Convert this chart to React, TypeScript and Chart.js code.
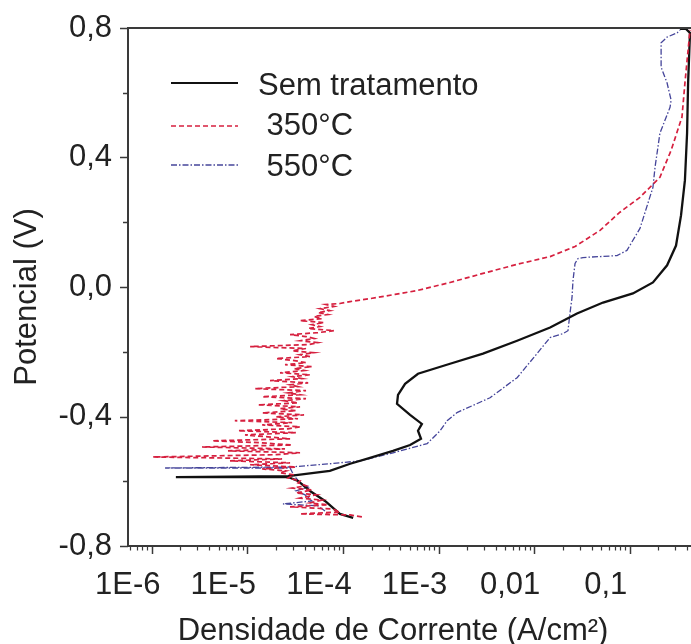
import React, { useEffect, useRef } from 'react';
import { Chart, registerables } from 'chart.js';

Chart.register(...registerables);

// ---------- data (current density A/cm², potential V) ----------
const SERIES_NAMES = ['Sem tratamento', ' 350°C', ' 550°C'];

const BLACK_I = [
  1.28e-4, 9.3e-5, 6.5e-5, 4.53e-5, 3.39e-5, 2.67e-5, 1.79e-6, 2.67e-5, 7.3e-5, 1.19e-4,
  1.92e-4, 3.34e-4, 5.04e-4, 6.56e-4, 6.1e-4, 6.7e-4, 5.04e-4, 3.68e-4, 3.77e-4, 4.47e-4,
  6.1e-4, 1.32e-3, 2.92e-3, 6.64e-3, 0.0147, 0.0281, 0.0526, 0.108, 0.175, 0.246,
  0.305, 0.344, 0.378, 0.398, 0.408, 0.427, 0.388, 0.336,
];
const BLACK_E = [
  -0.713, -0.701, -0.661, -0.63, -0.599, -0.587, -0.587, -0.584, -0.568, -0.546,
  -0.528, -0.506, -0.488, -0.469, -0.444, -0.423, -0.395, -0.361, -0.333, -0.299,
  -0.268, -0.237, -0.206, -0.166, -0.125, -0.082, -0.048, -0.02, 0.014, 0.067,
  0.128, 0.221, 0.33, 0.475, 0.63, 0.785, 0.797, 0.797,
];

const RED_I = [
  // cathodic branch
  1.58e-4, 1.19e-4, 3.56e-5, 9.3e-5, 7.9e-5, 2.8e-5, 6.98e-5, 4.53e-5, 6.04e-5, 3.56e-5,
  5.22e-5, 3.23e-5, 4.75e-5, 2.94e-5, 4.11e-5, 3.39e-5, 3.56e-5, 2.67e-5, 3.08e-5, 2.2e-5,
  // noisy region
  2.54e-5, 1.43e-5, 3.23e-5, 1.07e-5, 2.8e-5, 6.59e-6, 2.31e-5, 1.03e-6, 2.0e-5, 3.56e-5,
  6.28e-6, 2.48e-5, 3.36e-6, 2.94e-5, 1.36e-5, 4.28e-6, 2.8e-5, 1.65e-5, 9.46e-6, 3.23e-5,
  8.0e-6, 2.67e-5, 3.56e-5, 1.43e-5, 2.94e-5, 7.4e-6, 3.39e-5, 2.0e-5, 3.92e-5, 1.43e-5,
  3.23e-5, 2.2e-5, 3.56e-5, 1.29e-5, 3.39e-5, 2.42e-5, 4.11e-5, 1.43e-5, 3.56e-5, 2.67e-5,
  4.11e-5, 1.2e-5, 3.39e-5, 2.8e-5, 4.33e-5, 1.73e-5, 3.73e-5, 2.94e-5, 4.53e-5, 2.2e-5,
  3.92e-5, 3.08e-5, 4.75e-5, 2.48e-5, 4.11e-5, 3.23e-5, 2.0e-5, 4.53e-5, 3.56e-5, 4.99e-5,
  2.94e-5, 4.11e-5, 1.07e-5, 4.33e-5, 5.48e-5, 3.56e-5, 4.99e-5, 4.11e-5, 2.8e-5, 5.48e-5,
  8.07e-5, 4.33e-5, 5.75e-5, 4.75e-5, 6.34e-5, 3.56e-5, 6.04e-5, 4.99e-5, 6.98e-5, 5.48e-5,
  7.3e-5, 5.75e-5, 8.07e-5, 6.65e-5, 9.3e-5,
  // anodic branch
  1.19e-4, 1.92e-4, 3.51e-4, 5.95e-4, 1.32e-3, 2.92e-3, 6.64e-3, 0.0147, 0.0268, 0.0489,
  0.079, 0.128, 0.207, 0.271, 0.352, 0.378, 0.408, 0.427,
];
const RED_E = [
  -0.71, -0.704, -0.701, -0.695, -0.686, -0.679, -0.673, -0.667, -0.658, -0.652,
  -0.642, -0.636, -0.627, -0.621, -0.614, -0.605, -0.599, -0.59, -0.58, -0.574,
  -0.568, -0.562, -0.556, -0.549, -0.543, -0.537, -0.531, -0.525, -0.518, -0.512,
  -0.506, -0.5, -0.494, -0.488, -0.481, -0.475, -0.469, -0.463, -0.457, -0.45,
  -0.444, -0.438, -0.432, -0.426, -0.419, -0.413, -0.407, -0.401, -0.395, -0.389,
  -0.382, -0.376, -0.37, -0.364, -0.358, -0.351, -0.345, -0.339, -0.333, -0.327,
  -0.32, -0.314, -0.308, -0.302, -0.296, -0.289, -0.283, -0.277, -0.271, -0.265,
  -0.258, -0.252, -0.246, -0.24, -0.234, -0.228, -0.221, -0.215, -0.209, -0.203,
  -0.197, -0.19, -0.184, -0.178, -0.172, -0.166, -0.159, -0.153, -0.147, -0.141,
  -0.135, -0.128, -0.122, -0.116, -0.11, -0.104, -0.098, -0.091, -0.085, -0.079,
  -0.073, -0.067, -0.06, -0.054, -0.051,
  -0.045, -0.036, -0.023, -0.011, 0.014, 0.042, 0.07, 0.094, 0.125, 0.175,
  0.231, 0.277, 0.339, 0.422, 0.525, 0.63, 0.732, 0.794,
];

const BLUE_I = [
  6.5e-5, 5.48e-5, 2.36e-5, 4.75e-5, 4.02e-5, 3.23e-5, 4.33e-5, 3.56e-5, 3.23e-5, 2.94e-5,
  2.8e-5, 1.38e-6, 2.8e-5, 7.3e-5, 1.51e-4, 3.34e-4, 7.6e-4, 1.04e-3, 1.23e-3, 1.56e-3,
  3.46e-3, 6.64e-3, 0.0107, 0.0147, 0.02, 0.0226, 0.0237, 0.0249, 0.0255, 0.0268,
  0.0288, 0.0324, 0.0736, 0.0935, 0.128, 0.175, 0.184, 0.207, 0.264, 0.271,
  0.246, 0.213, 0.213, 0.246, 0.313, 0.336,
];
const BLUE_E = [
  -0.692, -0.676, -0.67, -0.661, -0.642, -0.63, -0.618, -0.605, -0.59, -0.571,
  -0.559, -0.559, -0.556, -0.546, -0.537, -0.512, -0.484, -0.444, -0.413, -0.388,
  -0.342, -0.28, -0.206, -0.156, -0.144, -0.135, -0.082, -0.033, 0.02, 0.073,
  0.088, 0.091, 0.097, 0.113, 0.181, 0.308, 0.37, 0.475, 0.555, 0.577,
  0.63, 0.679, 0.754, 0.772, 0.785, 0.794,
];

const X_MIN = 5.65e-7;
const X_MAX = 0.4375;
const X_TICKS = [1e-6, 1e-5, 1e-4, 1e-3, 1e-2, 1e-1];
const X_TICK_LABELS = ['1E-6', '1E-5', '1E-4', '1E-3', '0,01', '0,1'];
const Y_TICKS = [-0.8, -0.4, 0, 0.4, 0.8];
const Y_MINOR = [-0.6, -0.2, 0.2, 0.6];
const X_TITLE = 'Densidade de Corrente (A/cm²)';
const Y_TITLE = 'Potencial (V)';

// ---------- styles ----------
const FONT_FAMILY = '"Liberation Sans", Arial, Helvetica, sans-serif';
const TEXT_COLOR = '#222222';
const AXIS_COLOR = '#3a3a3a';
const BLACK = '#111111';
const RED = '#d6203f';
const BLUE = '#45459a';
const RED_DASH = [5, 3];
const BLUE_DASH = [6, 2, 1.5, 2];

const toPoints = (xs: number[], ys: number[]) => xs.map((x, i) => ({ x, y: ys[i] }));

const decorPlugin = {
  id: 'decor',
  afterDraw(chart: any) {
    const { ctx, chartArea: ca, scales } = chart;
    const xs = scales.x;
    const ys = scales.y;
    ctx.save();
    ctx.strokeStyle = AXIS_COLOR;
    ctx.lineWidth = 2;
    ctx.beginPath();
    ctx.moveTo(ca.left, ca.top);
    ctx.lineTo(ca.right, ca.top);
    ctx.stroke();
    ctx.lineWidth = 1.5;
    const seg = (x1: number, y1: number, x2: number, y2: number) => {
      ctx.beginPath();
      ctx.moveTo(x1, y1);
      ctx.lineTo(x2, y2);
      ctx.stroke();
    };
    Y_TICKS.forEach((v) => {
      const p = Math.round(ys.getPixelForValue(v)) + 0.5;
      seg(ca.left - 8, p, ca.left, p);
    });
    Y_MINOR.forEach((v) => {
      const p = Math.round(ys.getPixelForValue(v)) + 0.5;
      seg(ca.left - 5, p, ca.left, p);
    });
    X_TICKS.forEach((v) => {
      const p = Math.round(xs.getPixelForValue(v)) + 0.5;
      seg(p, ca.bottom, p, ca.bottom + 8);
    });
    ctx.lineWidth = 1.2;
    for (let e = -7; e <= -1; e++) {
      for (let m = 2; m <= 9; m++) {
        const v = m * Math.pow(10, e);
        if (v < xs.min || v > xs.max) continue;
        const p = Math.round(xs.getPixelForValue(v)) + 0.5;
        seg(p, ca.bottom, p, ca.bottom + 4.5);
      }
    }
    ctx.fillStyle = TEXT_COLOR;
    ctx.font = `31px ${FONT_FAMILY}`;
    ctx.textAlign = 'center';
    ctx.textBaseline = 'alphabetic';
    ctx.fillText(X_TITLE, 393, 640);
    ctx.save();
    ctx.translate(27, 297);
    ctx.rotate(-Math.PI / 2);
    ctx.textBaseline = 'middle';
    ctx.fillText(Y_TITLE, 0, 0);
    ctx.restore();
    const items = [
      { color: BLACK, dash: [] as number[], width: 2, y: 83, base: 95 },
      { color: RED, dash: RED_DASH, width: 1.5, y: 126, base: 135 },
      { color: BLUE, dash: BLUE_DASH, width: 1.3, y: 165, base: 176 },
    ];
    items.forEach((it, i) => {
      ctx.strokeStyle = it.color;
      ctx.lineWidth = it.width;
      ctx.setLineDash(it.dash);
      seg(171, it.y, 238, it.y);
      ctx.setLineDash([]);
      ctx.textAlign = 'left';
      ctx.textBaseline = 'alphabetic';
      ctx.fillStyle = TEXT_COLOR;
      ctx.fillText(SERIES_NAMES[i], 258, it.base);
    });
    ctx.restore();
  },
};

export default function App() {
  const ref = useRef<HTMLCanvasElement | null>(null);

  useEffect(() => {
    if (!ref.current) return;
    const chart = new Chart(ref.current, {
      type: 'line',
      data: {
        datasets: [
          {
            label: SERIES_NAMES[1],
            data: toPoints(RED_I, RED_E),
            borderColor: RED,
            borderWidth: 1.7,
            borderDash: RED_DASH,
            pointRadius: 0,
            tension: 0,
            order: 1,
          },
          {
            label: SERIES_NAMES[0],
            data: toPoints(BLACK_I, BLACK_E),
            borderColor: BLACK,
            borderWidth: 2.3,
            pointRadius: 0,
            tension: 0,
            order: 2,
          },
          {
            label: SERIES_NAMES[2],
            data: toPoints(BLUE_I, BLUE_E),
            borderColor: BLUE,
            borderWidth: 1.3,
            borderDash: BLUE_DASH,
            pointRadius: 0,
            tension: 0,
            order: 3,
          },
        ],
      },
      options: {
        animation: false,
        responsive: false,
        parsing: false as any,
        layout: { padding: { top: 28, right: 0, left: 0, bottom: 0 } },
        plugins: { legend: { display: false }, tooltip: { enabled: false } },
        elements: { line: { fill: false } },
        scales: {
          x: {
            type: 'logarithmic',
            min: X_MIN,
            max: X_MAX,
            afterBuildTicks: (scale: any) => {
              scale.ticks = X_TICKS.map((v) => ({ value: v }));
            },
            afterFit: (scale: any) => {
              scale.height = 98;
              scale.paddingLeft = 0;
              scale.paddingRight = 0;
              scale.paddingTop = 0;
              scale.paddingBottom = 0;
            },
            grid: { display: false, drawTicks: false },
            border: { display: true, color: AXIS_COLOR, width: 2 },
            ticks: {
              autoSkip: false,
              maxRotation: 0,
              padding: 21,
              labelOffset: -24,
              color: TEXT_COLOR,
              font: { family: FONT_FAMILY, size: 31 },
              callback: (_v: any, i: number) => X_TICK_LABELS[i],
            },
          },
          y: {
            type: 'linear',
            min: -0.8,
            max: 0.8,
            afterBuildTicks: (scale: any) => {
              scale.ticks = Y_TICKS.map((v) => ({ value: v }));
            },
            afterFit: (scale: any) => {
              scale.width = 128;
              scale.paddingTop = 0;
              scale.paddingBottom = 0;
              scale.paddingLeft = 0;
              scale.paddingRight = 0;
            },
            grid: { display: false, drawTicks: false },
            border: { display: true, color: AXIS_COLOR, width: 2 },
            ticks: {
              padding: 16,
              color: TEXT_COLOR,
              font: { family: FONT_FAMILY, size: 31 },
              callback: (v: any) => Number(v).toFixed(1).replace('.', ','),
            },
          },
        },
      },
      plugins: [decorPlugin],
    });
    return () => chart.destroy();
  }, []);

  return (
    <div style={{ position: 'absolute', left: 0, top: 0, width: 691, height: 644, background: '#ffffff' }}>
      <canvas ref={ref} width={691} height={644} />
    </div>
  );
}
